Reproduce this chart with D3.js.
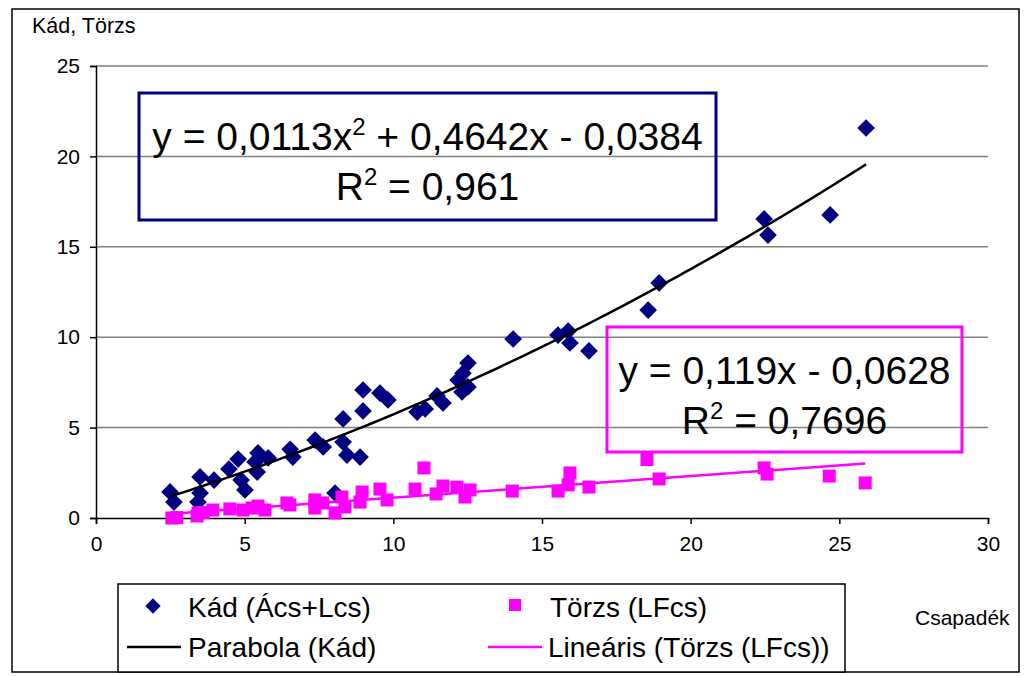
<!DOCTYPE html>
<html>
<head>
<meta charset="utf-8">
<script src="https://cdn.jsdelivr.net/npm/d3@7"></script>
<style>
  html, body { margin: 0; padding: 0; background: #fff; }
  svg { display: block; font-family: "Liberation Sans", Arial, sans-serif; }
</style>
</head>
<body>
<svg id="chart" width="1024" height="676"></svg>
<script>
// Kád (Ács+Lcs) observations: precipitation (x) vs collected amount (y)
const kadX = [2.49, 2.62, 3.50, 3.50, 3.43, 3.97, 4.47, 4.78, 4.88, 5.01, 5.42, 5.45, 5.79, 5.35,
  6.53, 6.62, 7.37, 7.64, 8.31, 8.31, 8.44, 8.88, 8.04, 8.98, 8.98, 9.55, 9.82,
  10.80, 11.07, 11.47, 11.67, 12.18, 12.34, 12.51, 12.31, 12.51,
  14.03, 15.54, 15.88, 15.94, 16.58, 18.57, 18.94, 22.47, 22.60, 24.69, 25.90];
const kadY = [1.44, 0.88, 2.27, 1.38, 0.88, 2.10, 2.71, 3.26, 2.10, 1.55, 2.54, 3.60, 3.32, 3.10,
  3.80, 3.37, 4.31, 3.93, 5.48, 4.20, 3.48, 3.37, 1.38, 7.08, 5.92, 6.91, 6.53,
  5.86, 6.03, 6.75, 6.36, 7.63, 8.00, 8.57, 6.97, 7.25,
  9.90, 10.12, 10.34, 9.68, 9.24, 11.50, 13.00, 16.54, 15.65, 16.76, 21.57];

// Törzs (LFcs) observations
const torzsX = [2.55, 2.72, 3.40, 3.43, 3.60, 3.93, 4.50, 4.94, 5.25, 5.45, 5.68,
  6.42, 6.52, 7.36, 7.36, 7.63, 8.04, 8.27, 8.37, 8.88, 8.95, 9.55, 9.79,
  10.73, 11.03, 11.44, 11.67, 12.14, 12.41, 12.58,
  14.00, 15.54, 15.94, 15.88, 16.58, 18.53, 18.94, 22.47, 22.57, 24.66, 25.87];
const torzsY = [0.00, 0.02, 0.11, 0.28, 0.30, 0.44, 0.50, 0.44, 0.55, 0.66, 0.44,
  0.83, 0.72, 1.00, 0.55, 0.83, 0.28, 1.16, 0.61, 0.88, 1.44, 1.60, 1.00,
  1.60, 2.77, 1.33, 1.77, 1.71, 1.16, 1.55,
  1.49, 1.49, 2.49, 1.83, 1.71, 3.23, 2.16, 2.77, 2.43, 2.32, 1.94];

// Trend line coefficients (highest power first)
const kadFit = [0.0113, 0.4642, -0.0384];
const torzsFit = [0.119, -0.0628];

const xTicks = [0, 5, 10, 15, 20, 25, 30];
const yTicks = [0, 5, 10, 15, 20, 25];

const legendLabels = ["Kád (Ács+Lcs)", "Törzs (LFcs)", "Parabola (Kád)", "Lineáris (Törzs (LFcs))"];

const NAVY = "#000080", MAGENTA = "#ff00ff";

const svg = d3.select("#chart");

const x = d3.scaleLinear().domain([0, 30]).range([96, 988]);
const y = d3.scaleLinear().domain([0, 25]).range([518, 66]);

// outer frame
svg.append("rect").attr("x", 12).attr("y", 9).attr("width", 1007).attr("height", 663)
  .attr("fill", "none").attr("stroke", "#000").attr("stroke-width", 1.5);

// gridlines
svg.append("g").selectAll("line").data(yTicks.filter(d => d > 0)).join("line")
  .attr("x1", x(0)).attr("x2", x(30))
  .attr("y1", d => y(d)).attr("y2", d => y(d))
  .attr("stroke", "#808080").attr("stroke-width", 1.5);

// axes
const yAxis = d3.axisLeft(y).tickValues(yTicks).tickSize(6).tickPadding(10).tickFormat(d3.format("d"));
const xAxis = d3.axisBottom(x).tickValues(xTicks).tickSize(6).tickPadding(12).tickFormat(d3.format("d"));

const gy = svg.append("g").attr("transform", `translate(${x(0)},0)`).call(yAxis);
const gx = svg.append("g").attr("transform", `translate(0,${y(0)})`).call(xAxis);
[gx, gy].forEach(g => {
  g.select(".domain").attr("stroke", "#000").attr("stroke-width", 1.5);
  g.selectAll(".tick line").attr("stroke", "#000").attr("stroke-width", 1.5);
  g.selectAll(".tick text").attr("fill", "#000").attr("font-size", 21)
    .attr("font-family", "Liberation Sans, Arial, sans-serif");
});

// axis titles
svg.append("text").attr("x", 32).attr("y", 33).attr("font-size", 21.5).text("Kád, Törzs");
svg.append("text").attr("x", 915).attr("y", 625).attr("font-size", 21).text("Csapadék");

// trend lines
const line = d3.line().x(d => x(d[0])).y(d => y(d[1]));
const kadLo = d3.min(kadX), kadHi = d3.max(kadX);
const kadCurve = d3.range(0, 101).map(i => {
  const v = kadLo + (kadHi - kadLo) * i / 100;
  return [v, kadFit[0] * v * v + kadFit[1] * v + kadFit[2]];
});
const tLo = d3.min(torzsX), tHi = d3.max(torzsX);
const torzsLine = [tLo, tHi].map(v => [v, torzsFit[0] * v + torzsFit[1]]);

// markers
const diamond = d3.symbol().type(d3.symbolDiamond2).size(200);
const kadPts = kadX.map((v, i) => [v, kadY[i]]);
const torzsPts = torzsX.map((v, i) => [v, torzsY[i]]);

svg.append("g").selectAll("path").data(kadPts).join("path")
  .attr("d", diamond)
  .attr("transform", d => `translate(${x(d[0])},${y(d[1])})`)
  .attr("fill", NAVY);

svg.append("path").datum(kadCurve).attr("d", line)
  .attr("fill", "none").attr("stroke", "#000").attr("stroke-width", 2.5);

svg.append("g").selectAll("rect").data(torzsPts).join("rect")
  .attr("x", d => x(d[0]) - 6.5).attr("y", d => y(d[1]) - 6.5)
  .attr("width", 13).attr("height", 13)
  .attr("fill", MAGENTA);

svg.append("path").datum(torzsLine).attr("d", line)
  .attr("fill", "none").attr("stroke", MAGENTA).attr("stroke-width", 2.5);

// equation labels
function eqBox(bx, by, bw, bh, color, lines) {
  const g = svg.append("g");
  g.append("rect").attr("x", bx).attr("y", by).attr("width", bw).attr("height", bh)
    .attr("fill", "none").attr("stroke", color).attr("stroke-width", 3);
  lines.forEach((parts, i) => {
    const t = g.append("text").attr("x", bx + bw / 2).attr("y", by + 57 + i * 50)
      .attr("text-anchor", "middle").attr("font-size", 39).attr("fill", "#000");
    parts.forEach(p => {
      if (p.sup) {
        t.append("tspan").attr("dy", -15).attr("font-size", 24).text(p.t);
      } else if (p.after) {
        t.append("tspan").attr("dy", 15).text(p.t);
      } else {
        t.append("tspan").text(p.t);
      }
    });
  });
}

eqBox(139, 93, 577, 127, NAVY, [
  [{ t: "y = 0,0113x" }, { t: "2", sup: true }, { t: " + 0,4642x - 0,0384", after: true }],
  [{ t: "R" }, { t: "2", sup: true }, { t: " = 0,961", after: true }]
]);
eqBox(607, 327, 355, 125, MAGENTA, [
  [{ t: "y = 0,119x - 0,0628" }],
  [{ t: "R" }, { t: "2", sup: true }, { t: " = 0,7696", after: true }]
]);

// legend
const lg = svg.append("g");
lg.append("rect").attr("x", 118).attr("y", 584).attr("width", 727).attr("height", 88)
  .attr("fill", "#fff").attr("stroke", "#000").attr("stroke-width", 1.5);
lg.append("path").attr("d", d3.symbol().type(d3.symbolDiamond2).size(150))
  .attr("transform", "translate(153,606)").attr("fill", NAVY);
lg.append("rect").attr("x", 509).attr("y", 599).attr("width", 12).attr("height", 12).attr("fill", MAGENTA);
lg.append("line").attr("x1", 127).attr("x2", 181).attr("y1", 647).attr("y2", 647)
  .attr("stroke", "#000").attr("stroke-width", 2.5);
lg.append("line").attr("x1", 488).attr("x2", 542).attr("y1", 647).attr("y2", 647)
  .attr("stroke", MAGENTA).attr("stroke-width", 2.5);
const legPos = [[188, 617], [550, 617], [188, 657], [548, 657]];
lg.selectAll("text").data(legendLabels).join("text")
  .attr("x", (d, i) => legPos[i][0]).attr("y", (d, i) => legPos[i][1])
  .attr("font-size", 28).attr("fill", "#000").text(d => d);
</script>
</body>
</html>
